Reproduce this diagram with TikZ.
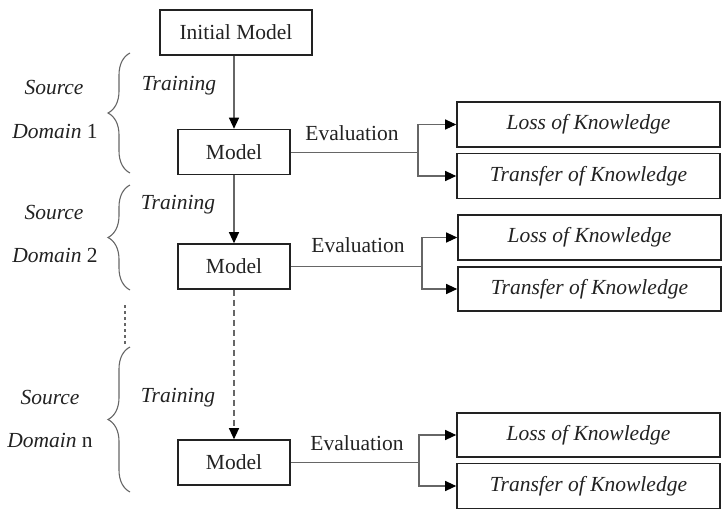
\documentclass[tikz,border=0pt]{standalone}
\usepackage{fontspec}
\setmainfont{Liberation Serif}
\usetikzlibrary{arrows.meta,decorations.pathreplacing}
\definecolor{txt}{HTML}{222222}
\definecolor{ln}{HTML}{666666}
\tikzset{
  box/.style={draw=txt, line width=1.6pt, inner sep=0pt, text=txt},
  mbox/.style={box, minimum width=112pt, minimum height=45pt},
  kbox/.style={box, minimum width=263pt, minimum height=45pt, font=\fontsize{21.5}{24}\selectfont\itshape},
  lbl/.style={text=txt, inner sep=0pt},
  conn/.style={draw=ln, line width=1.1pt},
  arr/.style={conn, -{Triangle[width=10pt,length=11pt,color=black,fill=black]}},
  brc/.style={draw=ln, line width=1.1pt, decorate, decoration={brace, amplitude=22pt}},
}
\begin{document}
\begin{tikzpicture}[x=1pt, y=-1pt, font=\fontsize{21.5}{24}\selectfont]
\useasboundingbox (0,0) rectangle (722,509);
% models
\node[box, minimum width=152pt, minimum height=45pt] (init) at (236,32.5) {Initial Model};
\node[mbox] (m1) at (234,152) {Model};
\node[mbox] (m2) at (234,266.5) {Model};
\node[mbox] (mn) at (234,462.5) {Model};
% knowledge boxes
\node[kbox] (l1) at (588.5,124.5) {Loss of Knowledge};
\node[kbox] (t1) at (588.5,176) {Transfer of Knowledge};
\node[kbox] (l2) at (589.5,237.5) {Loss of Knowledge};
\node[kbox, minimum height=44pt] (t2) at (589.5,289) {Transfer of Knowledge};
\node[kbox, minimum height=44pt] (ln) at (588.5,435) {Loss of Knowledge};
\node[kbox] (tn) at (588.5,486) {Transfer of Knowledge};
% vertical arrows
\draw[arr] (m1 |- init.south) -- (m1.north);
\draw[arr] (m1.south) -- (m2.north);
\draw[arr, dashed, dash pattern=on 6pt off 4pt] (m2.south) -- (mn.north);
% branches
\coordinate (b1) at (418,152.5);
\coordinate (b2) at (422,266.5);
\coordinate (bn) at (419,462.5);
\draw[conn] (m1.east |- b1) -- (b1);
\draw[arr] (b1) |- (l1.west);
\draw[arr] (b1) |- (t1.west);
\draw[conn] (m2.east) -- (b2);
\draw[arr] (b2) |- (l2.west);
\draw[arr] (b2) |- (t2.west);
\draw[conn] (mn.east) -- (bn);
\draw[arr] (bn) |- (ln.west);
\draw[arr] (bn) |- (tn.west);
% evaluation labels
\node[lbl] (e1) at (352,133) {Evaluation};
\node[lbl] (e2) at (358,245) {Evaluation};
\node[lbl] (en) at (357,443) {Evaluation};
% training labels
\node[lbl, font=\fontsize{21.5}{24}\selectfont\itshape] (tr1) at (179,86) {Training};
\node[lbl, font=\fontsize{21.5}{24}\selectfont\itshape] (tr2) at (178,205) {Training};
\node[lbl, font=\fontsize{21.5}{24}\selectfont\itshape] (trn) at (178,398) {Training};
% braces
\coordinate (c1a) at (130,173); \coordinate (c1b) at (130,53);
\coordinate (c2a) at (130,290); \coordinate (c2b) at (130,185);
\coordinate (cna) at (130,492); \coordinate (cnb) at (130,347);
\draw[brc] (c1a) -- (c1b);
\draw[brc] (c2a) -- (c2b);
\draw[brc] (cna) -- (cnb);
\coordinate (d1) at (125,305); \coordinate (d2) at (125,345);
\draw[conn, dashed, dash pattern=on 3pt off 3pt] (d1) -- (d2);
% domain labels
\node[lbl] (s1) at (54,88) {\itshape Source};
\node[lbl] (dm1) at (55,131) {\itshape Domain\/ \upshape 1};
\node[lbl] (s2) at (54,213) {\itshape Source};
\node[lbl] (dm2) at (55,255) {\itshape Domain\/ \upshape 2};
\node[lbl] (sn) at (50,397) {\itshape Source};
\node[lbl] (dmn) at (50,440) {\itshape Domain\/ \upshape n};
\end{tikzpicture}
\end{document}
